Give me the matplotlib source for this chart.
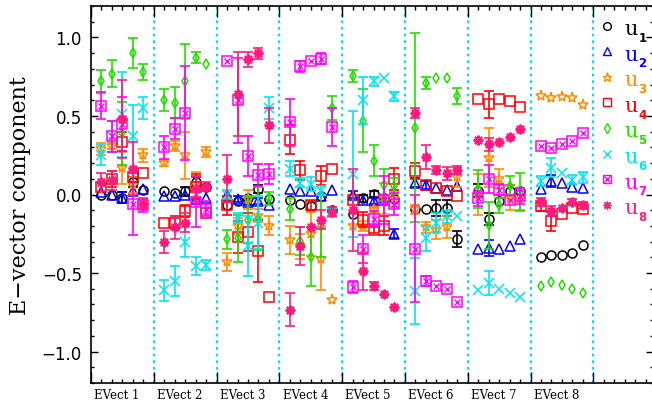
import numpy as np
import matplotlib
matplotlib.use("Agg")
import matplotlib.pyplot as plt
from matplotlib.ticker import MultipleLocator, FixedLocator

# ----------------------------------------------------------------------
# Daten: Komponenten u1..u8, je 8 Eigenvektoren x 5 Punkte (+ Fehler)
# ----------------------------------------------------------------------
evect_labels = ["EVect 1", "EVect 2", "EVect 3", "EVect 4",
                "EVect 5", "EVect 6", "EVect 7", "EVect 8"]
comp_labels = ["1", "2", "3", "4", "5", "6", "7", "8"]

u1_val = [[0.00, 0.00, -0.02, 0.08, 0.03],
          [0.02, 0.01, 0.02, 0.08, 0.05],
          [-0.07, -0.04, -0.025, 0.035, -0.03],
          [-0.035, -0.06, -0.075, -0.01, -0.10],
          [-0.125, -0.025, 0.005, -0.025, -0.03],
          [-0.095, -0.095, -0.085, -0.085, -0.285],
          [0.025, -0.155, -0.04, 0.025, 0.025],
          [-0.395, -0.385, -0.385, -0.37, -0.32]]
u1_err = [[0, 0, 0.035, 0.03, 0],
          [0, 0, 0.03, 0.03, 0],
          [0, 0, 0, 0.025, 0],
          [0, 0, 0, 0, 0],
          [0, 0.02, 0.02, 0, 0],
          [0, 0, 0.05, 0.05, 0.05],
          [0.04, 0.04, 0, 0.035, 0],
          [0, 0, 0, 0, 0]]

u2_val = [[0.015, 0.0, -0.02, 0.02, 0.035],
          [-0.01, -0.01, -0.005, -0.03, -0.025],
          [0.0, -0.03, -0.045, -0.04, -0.07],
          [0.035, 0.025, 0.02, -0.01, 0.03],
          [0.0, -0.035, -0.04, -0.035, -0.25],
          [0.075, 0.06, 0.04, 0.03, 0.055],
          [-0.35, -0.34, -0.345, -0.33, -0.285],
          [0.035, 0.085, 0.075, 0.045, 0.04]]
u2_err = [[0, 0, 0.035, 0, 0],
          [0, 0, 0, 0, 0],
          [0, 0.02, 0.02, 0.02, 0],
          [0, 0, 0, 0, 0],
          [0.02, 0, 0.02, 0, 0.03],
          [0.03, 0.025, 0, 0, 0],
          [0, 0.05, 0, 0, 0],
          [0, 0.04, 0, 0, 0]]

u3_val = [[0.29, 0.31, 0.17, 0.06, 0.25],
          [0.20, 0.31, 0.25, 0.065, 0.27],
          [-0.43, -0.20, -0.03, -0.135, -0.20],
          [-0.29, -0.33, -0.25, -0.41, -0.67],
          [-0.20, -0.20, -0.10, -0.025, -0.03],
          [-0.095, -0.21, -0.225, -0.21, 0.11],
          [0.0, 0.235, 0.10, -0.02, -0.03],
          [0.63, 0.615, 0.62, 0.615, 0.57]]
u3_err = [[0.04, 0.02, 0.10, 0.05, 0.04],
          [0.02, 0.03, 0.15, 0.08, 0.03],
          [0.06, 0.05, 0.06, 0.04, 0.06],
          [0.09, 0.08, 0.14, 0.20, 0],
          [0, 0.03, 0.02, 0.10, 0.05],
          [0.03, 0.035, 0.06, 0.07, 0.06],
          [0.13, 0.19, 0.06, 0.08, 0.07],
          [0, 0, 0, 0, 0]]

u4_val = [[0.045, 0.10, 0.335, 0.11, 0.135],
          [-0.18, -0.18, -0.105, 0.05, -0.115],
          [-0.07, -0.27, -0.24, -0.36, -0.65],
          [0.35, 0.155, -0.07, 0.12, 0.165],
          [-0.035, -0.16, -0.225, -0.20, 0.10],
          [0.15, 0.06, 0.04, 0.025, -0.01],
          [0.61, 0.575, 0.61, 0.595, 0.555],
          [-0.075, -0.17, -0.125, -0.085, -0.09]]
u4_err = [[0, 0.05, 0.06, 0.03, 0],
          [0, 0.04, 0.04, 0.08, 0],
          [0.06, 0.10, 0.12, 0.20, 0],
          [0.09, 0.06, 0.03, 0.06, 0],
          [0, 0.05, 0.02, 0.06, 0.07],
          [0.05, 0, 0, 0, 0],
          [0, 0.085, 0, 0, 0],
          [0.03, 0.06, 0, 0, 0]]

u5_val = [[0.72, 0.77, 0.39, 0.90, 0.78],
          [0.60, 0.585, 0.72, 0.87, 0.83],
          [-0.285, -0.28, -0.16, -0.155, -0.025],
          [-0.09, -0.295, -0.395, -0.20, 0.55],
          [0.755, 0.47, 0.215, 0.06, 0.055],
          [0.425, 0.71, 0.74, 0.74, 0.625],
          [0.035, -0.195, -0.07, 0.055, 0.015],
          [-0.58, -0.555, -0.575, -0.60, -0.63]]
u5_err = [[0.075, 0.085, 0.20, 0.095, 0.05],
          [0.07, 0.10, 0.24, 0.035, 0],
          [0.06, 0.15, 0.15, 0.20, 0.04],
          [0.07, 0.09, 0.19, 0.20, 0.075],
          [0.04, 0.20, 0.10, 0.10, 0.05],
          [0.60, 0.04, 0, 0, 0.05],
          [0.12, 0.15, 0.05, 0.06, 0.12],
          [0, 0, 0, 0, 0]]

u6_val = [[0.25, 0.37, 0.51, 0.37, 0.55],
          [-0.61, -0.55, -0.30, -0.455, -0.45],
          [0.0, -0.15, -0.33, -0.18, 0.55],
          [0.165, 0.075, 0.065, 0.025, -0.115],
          [0.13, 0.60, 0.72, 0.74, 0.625],
          [-0.615, -0.28, -0.18, -0.14, -0.14],
          [-0.61, -0.565, -0.60, -0.625, -0.65],
          [0.085, 0.17, 0.135, 0.095, 0.11]]
u6_err = [[0.065, 0.10, 0.27, 0.20, 0.07],
          [0.065, 0.095, 0.095, 0.06, 0.03],
          [0.03, 0.03, 0.19, 0.17, 0.07],
          [0.05, 0.03, 0.045, 0.03, 0.03],
          [0.40, 0.15, 0.03, 0, 0.03],
          [0.21, 0.08, 0.06, 0.04, 0],
          [0, 0.075, 0, 0, 0],
          [0.03, 0.06, 0, 0.03, 0.035]]

u7_val = [[0.565, 0.37, 0.45, -0.06, -0.07],
          [0.30, 0.42, 0.52, -0.05, -0.09],
          [0.85, 0.60, 0.245, 0.125, 0.13],
          [0.46, 0.815, 0.85, 0.865, 0.43],
          [-0.59, -0.345, -0.155, -0.035, -0.06],
          [-0.345, -0.55, -0.58, -0.60, -0.685],
          [-0.025, 0.10, 0.03, -0.035, -0.01],
          [0.31, 0.295, 0.32, 0.34, 0.39]]
u7_err = [[0.085, 0.10, 0.17, 0.20, 0.04],
          [0.075, 0.065, 0.30, 0.16, 0.05],
          [0, 0.27, 0.13, 0.07, 0.065],
          [0.15, 0.035, 0, 0.035, 0.12],
          [0.04, 0.09, 0.05, 0.15, 0.07],
          [0.34, 0.03, 0, 0, 0],
          [0.05, 0.09, 0.035, 0, 0.05],
          [0, 0, 0, 0, 0]]

u8_val = [[0.08, 0.09, 0.48, 0.165, -0.06],
          [-0.30, -0.21, -0.18, 0.035, 0.05],
          [0.10, 0.64, 0.86, 0.90, 0.44],
          [-0.735, -0.33, -0.21, -0.16, -0.11],
          [-0.10, -0.49, -0.585, -0.635, -0.715],
          [0.52, 0.24, 0.155, 0.135, 0.155],
          [0.345, 0.32, 0.335, 0.365, 0.42],
          [-0.05, -0.105, -0.085, -0.05, -0.07]]
u8_err = [[0.055, 0.06, 0.25, 0.17, 0.035],
          [0.07, 0.075, 0.06, 0.085, 0.03],
          [0.15, 0.27, 0.05, 0.035, 0.11],
          [0.105, 0.12, 0, 0.06, 0.03],
          [0.26, 0.12, 0.025, 0, 0],
          [0.03, 0.075, 0.025, 0.04, 0.025],
          [0, 0.04, 0, 0, 0],
          [0.025, 0.03, 0, 0.02, 0.02]]

# ----------------------------------------------------------------------
# Stil je Komponente
# ----------------------------------------------------------------------
werte = [u1_val, u2_val, u3_val, u4_val, u5_val, u6_val, u7_val, u8_val]
fehler = [u1_err, u2_err, u3_err, u4_err, u5_err, u6_err, u7_err, u8_err]
farben = ["black", "#0000ff", "#ff8c00", "#ff0000",
          "#22dd00", "#00e5f0", "#ff00ff", "#ff1a80"]
marker = ["o", "^", "*", "s", "d", "x", "s", (8, 2, 0)]
msize = [6.5, 7, 8, 6.5, 5.5, 7, 7, 7]

n_grp, n_pt = 8, 5
slot = n_pt + 1

fig = plt.figure(figsize=(6.52, 4.10), dpi=100)
ax = fig.add_axes([91 / 652, 1 - 384 / 410, 562 / 652, 377 / 410])

xpos = np.array([[slot * g + k + 1 for k in range(n_pt)] for g in range(n_grp)])

for i in range(8):
    v = np.array(werte[i], dtype=float).ravel()
    e = np.array(fehler[i], dtype=float).ravel()
    x = xpos.ravel()
    c = farben[i]
    m = e > 0
    ax.errorbar(x[m], v[m], yerr=e[m], fmt="none", ecolor=c,
                elinewidth=1.2, capsize=3.6, capthick=1.2, zorder=2 + i)
    mfc = c if marker[i] in ("x", (8, 2, 0)) else "none"
    ax.plot(x, v, ls="none", marker=marker[i], ms=msize[i], mec=c,
            mfc=mfc, mew=1.1 if i != 7 else 1.6, zorder=2.5 + i)
    if i == 6:
        ax.plot(x, v, ls="none", marker="x", ms=4.5, mec=c, mew=1.0,
                zorder=2.5 + i)

# Trennlinien zwischen den Eigenvektoren
for g in range(1, n_grp + 1):
    ax.axvline(slot * g, color="#00e0f0", ls=(0, (1.2, 1.8)), lw=1.6, zorder=1)

# Legende (Symbol + u_i)
for i in range(8):
    yl = 0.948 - 0.0679 * i
    xl = 0.9187
    ax.plot([xl], [yl], transform=ax.transAxes, ls="none",
            marker=marker[i], ms=msize[i] * 0.85, mec=farben[i],
            mfc=farben[i] if marker[i] in ("x", (8, 2, 0)) else "none",
            mew=1.0, clip_on=False)
    if i == 6:
        ax.plot([xl], [yl], transform=ax.transAxes, ls="none", marker="x",
                ms=4, mec=farben[i], mew=1.0, clip_on=False)
    ax.annotate("u", (xl, yl), xycoords="axes fraction",
                xytext=(12, -6), textcoords="offset points",
                color=farben[i], fontsize=15, family="DejaVu Serif",
                va="baseline", ha="left")
    ax.annotate(comp_labels[i], (xl, yl), xycoords="axes fraction",
                xytext=(22.5, -11), textcoords="offset points",
                color=farben[i], fontsize=8.5, fontweight="bold",
                family="DejaVu Sans", va="baseline", ha="left")

# Achsen
ax.set_xlim(0, 562 / 10.465)
ax.set_ylim(-1.2, 1.2)
ax.xaxis.set_major_locator(FixedLocator([slot * g for g in range(n_grp + 1)]))
ax.xaxis.set_minor_locator(MultipleLocator(1))
ax.set_xticklabels([])
ax.yaxis.set_major_locator(MultipleLocator(0.5))
ax.yaxis.set_minor_locator(MultipleLocator(0.1))
ax.tick_params(axis="x", which="major", direction="in", length=8, width=1,
               top=True, bottom=True)
ax.tick_params(axis="x", which="minor", direction="in", length=3, width=1,
               top=True, bottom=True)
ax.tick_params(axis="y", which="major", direction="in", length=5, width=1,
               left=True, right=True, labelsize=12, pad=6.5)
ax.tick_params(axis="y", which="minor", direction="in", length=2.5, width=1,
               left=True, right=True)
for lab in ax.get_yticklabels():
    lab.set_family("DejaVu Sans")
for s in ax.spines.values():
    s.set_linewidth(1.2)

for g in range(n_grp):
    ax.text(slot * g + 0.3, -0.012, evect_labels[g],
            transform=ax.get_xaxis_transform(), ha="left", va="top",
            fontsize=8.5, family="DejaVu Serif")

ax.set_ylabel("E\u2212vector component", fontsize=16, family="DejaVu Serif",
              labelpad=8)

fig.savefig("out.png", dpi=100)
